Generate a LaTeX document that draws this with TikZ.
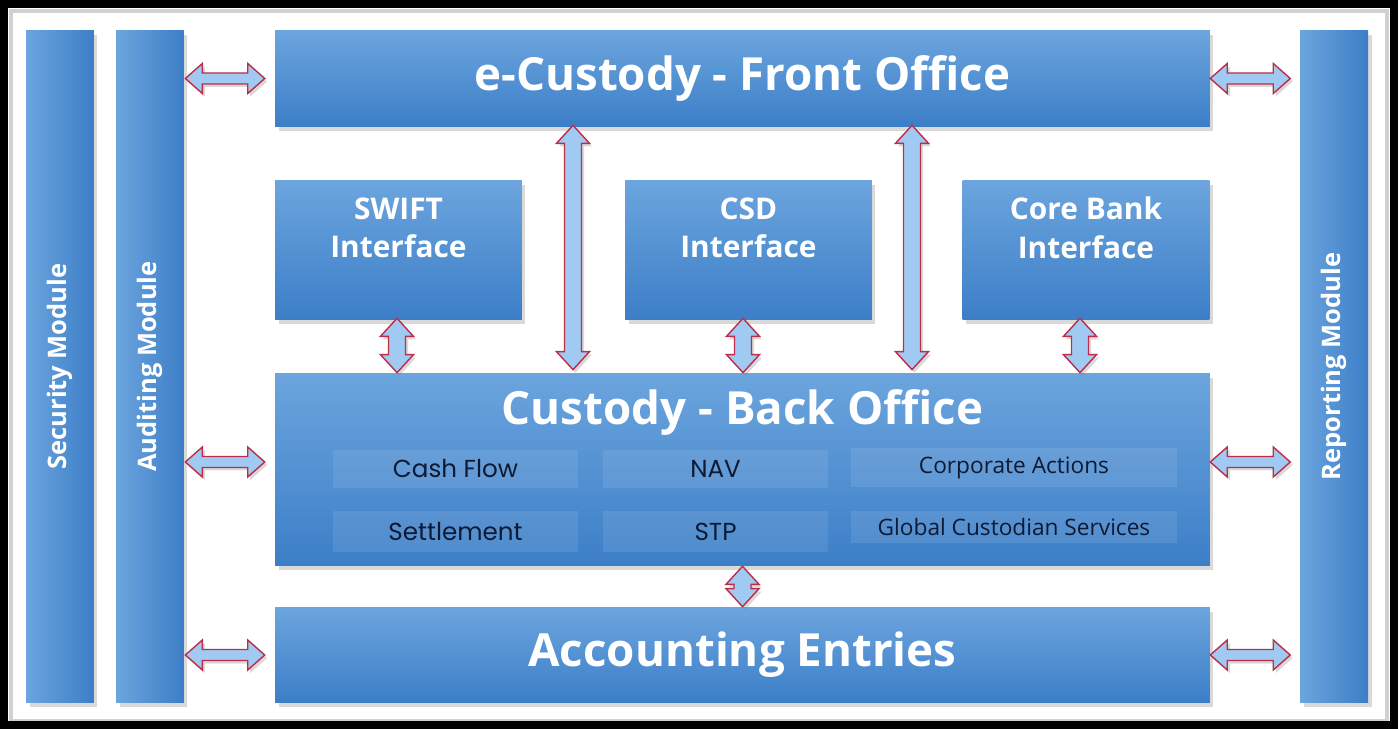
\documentclass[tikz,border=0pt]{standalone}
\usepackage{fontspec}
\setmainfont{Open Sans}
\newfontfamily\gothic{Poppins}
\usepackage{tikz}
\usetikzlibrary{calc,shadows,positioning}

\definecolor{boxtop}{RGB}{108,165,222}
\definecolor{boxbot}{RGB}{60,126,199}
\definecolor{arrfill}{RGB}{160,202,242}
\definecolor{arrline}{RGB}{190,45,72}
\definecolor{itemtext}{RGB}{14,26,52}

\tikzset{
  bluebox/.style={draw=none, top color=boxtop, bottom color=boxbot, inner sep=0pt,
    drop shadow={shadow xshift=0.07cm, shadow yshift=-0.09cm, opacity=0.3}},
  sidebox/.style={draw=none, left color=boxtop, right color=boxbot, inner sep=0pt,
    minimum width=1.36cm, minimum height=13.46cm,
    drop shadow={shadow xshift=0.07cm, shadow yshift=-0.09cm, opacity=0.3}},
  bigtitle/.style={text=white, font=\fontsize{26}{30}\selectfont\bfseries},
  midtitle/.style={text=white, align=center, font=\fontsize{17}{22}\selectfont\bfseries},
  sidetitle/.style={text=white, font=\fontsize{14.5}{17}\selectfont\bfseries},
  item/.style={fill=white, fill opacity=0.09, text opacity=1, text=itemtext, inner sep=0pt},
  hdbl/.style={draw=arrline, fill=arrfill, line width=0.8pt,
    drop shadow={shadow xshift=0.05cm, shadow yshift=-0.06cm, opacity=0.3},
    to path={let \p1=(\tikztostart), \p2=(\tikztotarget) in
      (\p1) -- (\x1+0.34cm,\y1+0.3cm) -- (\x1+0.34cm,\y1+0.11cm) -- (\x2-0.34cm,\y2+0.11cm)
      -- (\x2-0.34cm,\y2+0.3cm) -- (\p2) -- (\x2-0.34cm,\y2-0.3cm) -- (\x2-0.34cm,\y2-0.11cm)
      -- (\x1+0.34cm,\y1-0.11cm) -- (\x1+0.34cm,\y1-0.3cm) -- cycle}},
  vdbl/.style={draw=arrline, fill=arrfill, line width=0.8pt,
    drop shadow={shadow xshift=0.05cm, shadow yshift=-0.06cm, opacity=0.3},
    to path={let \p1=(\tikztostart), \p2=(\tikztotarget) in
      (\p1) -- (\x1+0.33cm,\y1-0.36cm) -- (\x1+0.17cm,\y1-0.36cm) -- (\x2+0.17cm,\y2+0.36cm)
      -- (\x2+0.33cm,\y2+0.36cm) -- (\p2) -- (\x2-0.33cm,\y2+0.36cm) -- (\x2-0.17cm,\y2+0.36cm)
      -- (\x1-0.17cm,\y1-0.36cm) -- (\x1-0.33cm,\y1-0.36cm) -- cycle}}
}

\begin{document}
\begin{tikzpicture}[x=0.02cm,y=-0.02cm]
\useasboundingbox (0,0) rectangle (1399,729);

% frame
\draw[black!18, line width=0.08cm] (11,11) rectangle (1387,721);
\draw[black, line width=0.17cm] (4,4) rectangle (1394,725);

% side modules
\foreach \n/\x/\t in {sec/60/Security Module, aud/150/Auditing Module, rep/1334/Reporting Module}{
	\node[sidebox, label={[sidetitle,rotate=90]center:\t}] (\n) at (\x,366.5) {};
}

% offices
\node[bluebox, bigtitle, minimum width=18.7cm, minimum height=1.94cm] (fo) at (742.5,78.5) {e-Custody - Front Office};
\node[bluebox, minimum width=18.7cm, minimum height=3.86cm,
	label={[bigtitle,anchor=center,yshift=-0.8cm]north:Custody - Back Office}] (bo) at (742.5,469.5) {};
\node[bluebox, bigtitle, minimum width=18.7cm, minimum height=1.92cm] (acc) at (742.5,655) {Accounting Entries};

% interfaces
\foreach \n/\x/\t in {swift/398.5/SWIFT, csd/748.5/CSD, core/1086/Core Bank}{
	\node[bluebox, minimum width=4.94cm, minimum height=2.8cm,
		label={[midtitle,yshift=0.44cm]center:\t\\Interface}] (\n) at (\x,250) {};
}

% back office items
\foreach \n/\x/\y/\w/\h/\t in {cash/455.5/469/4.9/0.76/Cash Flow, nav/715.5/469/4.5/0.76/NAV,
	settle/455.5/531.5/4.9/0.82/Settlement, stp/715.5/531.5/4.5/0.82/STP}{
	\node[item, font=\gothic\fontsize{14}{16}\selectfont, minimum width=\w cm, minimum height=\h cm] (\n) at (\x,\y) {\t};
}
\node[item, font=\fontsize{12.9}{15}\selectfont, minimum width=6.52cm, minimum height=0.78cm] (corp) at (1014,467.5) {Corporate Actions};
\node[item, font=\fontsize{12.9}{15}\selectfont, minimum width=6.52cm, minimum height=0.64cm] (gcs) at (1014,527) {Global Custodian Services};

% links to the side modules
\foreach \b/\dy in {fo/0, bo/-7.5, acc/0}{
	\draw[hdbl] ($(aud.east |- \b.west)+(1,\dy)$) to ($(\b.west)+(-10,\dy)$);
	\draw[hdbl] ($(\b.east)+(0,\dy)$) to ($(\b.east)+(80,\dy)$);
}

% front office <-> back office
\foreach \dx in {-169.5,169.5}{
	\draw[vdbl] ($(fo.south)+(\dx,-2)$) to ($(bo.north)+(\dx,-3)$);
}

% interfaces <-> back office
\foreach \n/\dx in {swift/-1.5, csd/-5.5, core/-6}{
	\draw[vdbl] ($(\n.south)+(\dx,-2)$) to ($(\n.south |- bo.north)+(\dx,0)$);
}
\draw[vdbl] (bo.south) to (acc.north);

\end{tikzpicture}
\end{document}
